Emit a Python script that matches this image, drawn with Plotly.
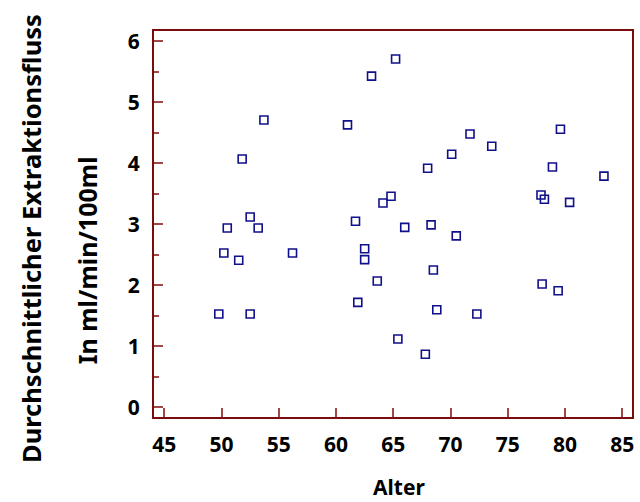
import plotly.graph_objects as go

alter = [49.76, 50.2, 50.5, 51.5, 51.8, 52.5, 52.5, 53.2, 53.7, 56.2,
         61.0, 61.7, 61.9, 62.5, 62.5, 63.1, 63.6, 64.1, 64.8, 65.2,
         65.4, 66.0, 67.8, 68.0, 68.3, 68.5, 68.8, 70.1, 70.5, 71.7,
         72.3, 73.6, 77.9, 78.2, 78.0, 78.9, 79.4, 79.6, 80.4, 83.4]
fluss = [1.53, 2.53, 2.94, 2.41, 4.07, 3.12, 1.53, 2.94, 4.71, 2.53,
         4.63, 3.05, 1.72, 2.60, 2.42, 5.43, 2.07, 3.35, 3.46, 5.71,
         1.12, 2.95, 0.87, 3.92, 2.99, 2.25, 1.60, 4.15, 2.81, 4.48,
         1.53, 4.28, 3.48, 3.41, 2.02, 3.94, 1.91, 4.56, 3.36, 3.79]

x_ticks = [45, 50, 55, 60, 65, 70, 75, 80, 85]
y_ticks = [0, 1, 2, 3, 4, 5, 6]

FONT = "Noto Sans"
frame = "#7a0c0c"
tickc = "#a04848"

fig = go.Figure()
fig.add_trace(go.Scatter(
    x=alter, y=fluss, mode="markers",
    marker=dict(symbol="square-open", size=8, color="#10108a",
                line=dict(width=1.6, color="#10108a")),
    showlegend=False, hoverinfo="skip"))

tf = dict(family=FONT, size=21, color="black", weight=900)

fig.update_layout(
    width=640, height=502,
    margin=dict(l=154, r=6, t=31, b=85),
    paper_bgcolor="white", plot_bgcolor="white",
    font=dict(family=FONT, color="black"),
    xaxis=dict(range=[44.1, 85.85], tickvals=x_ticks, ticktext=[f"<b>{v}</b>" for v in x_ticks],
               ticks="inside", ticklen=9, tickwidth=1.5, tickcolor=tickc,
               showline=True, linecolor=frame, linewidth=2, mirror=True,
               showgrid=False, zeroline=False,
               tickfont=tf, ticklabelstandoff=8),
    yaxis=dict(range=[-0.16, 6.17], tickvals=y_ticks, ticktext=[f"<b>{v}</b>" for v in y_ticks],
               ticks="inside", ticklen=9, tickwidth=1.5, tickcolor=tickc,
               minor=dict(dtick=0.5, tick0=0, ticks="inside", ticklen=5, tickwidth=1.5,
                          tickcolor=tickc, showgrid=False),
               showline=True, linecolor=frame, linewidth=2, mirror=True,
               showgrid=False, zeroline=False,
               tickfont=tf, ticklabelstandoff=8),
)

fig.add_annotation(text="Durchschnittlicher Extraktionsfluss", textangle=-90,
                   xref="paper", yref="paper", x=(30 - 154) / 480, y=1 - (238.5 - 31) / 386,
                   showarrow=False, font=dict(family=FONT, size=25.5, color="black", weight="bold"),
                   xanchor="center", yanchor="middle")
fig.add_annotation(text="In ml/min/100ml", textangle=-90,
                   xref="paper", yref="paper", x=(87 - 154) / 480, y=1 - (260 - 31) / 386,
                   showarrow=False, font=dict(family=FONT, size=25, color="black", weight="bold"),
                   xanchor="center", yanchor="middle")
fig.add_annotation(text="Alter",
                   xref="paper", yref="paper", x=(400 - 154) / 480, y=1 - (487 - 31) / 386,
                   showarrow=False, font=dict(family=FONT, size=21, color="black", weight="bold"),
                   xanchor="center", yanchor="middle")

fig.write_html("out.html")
